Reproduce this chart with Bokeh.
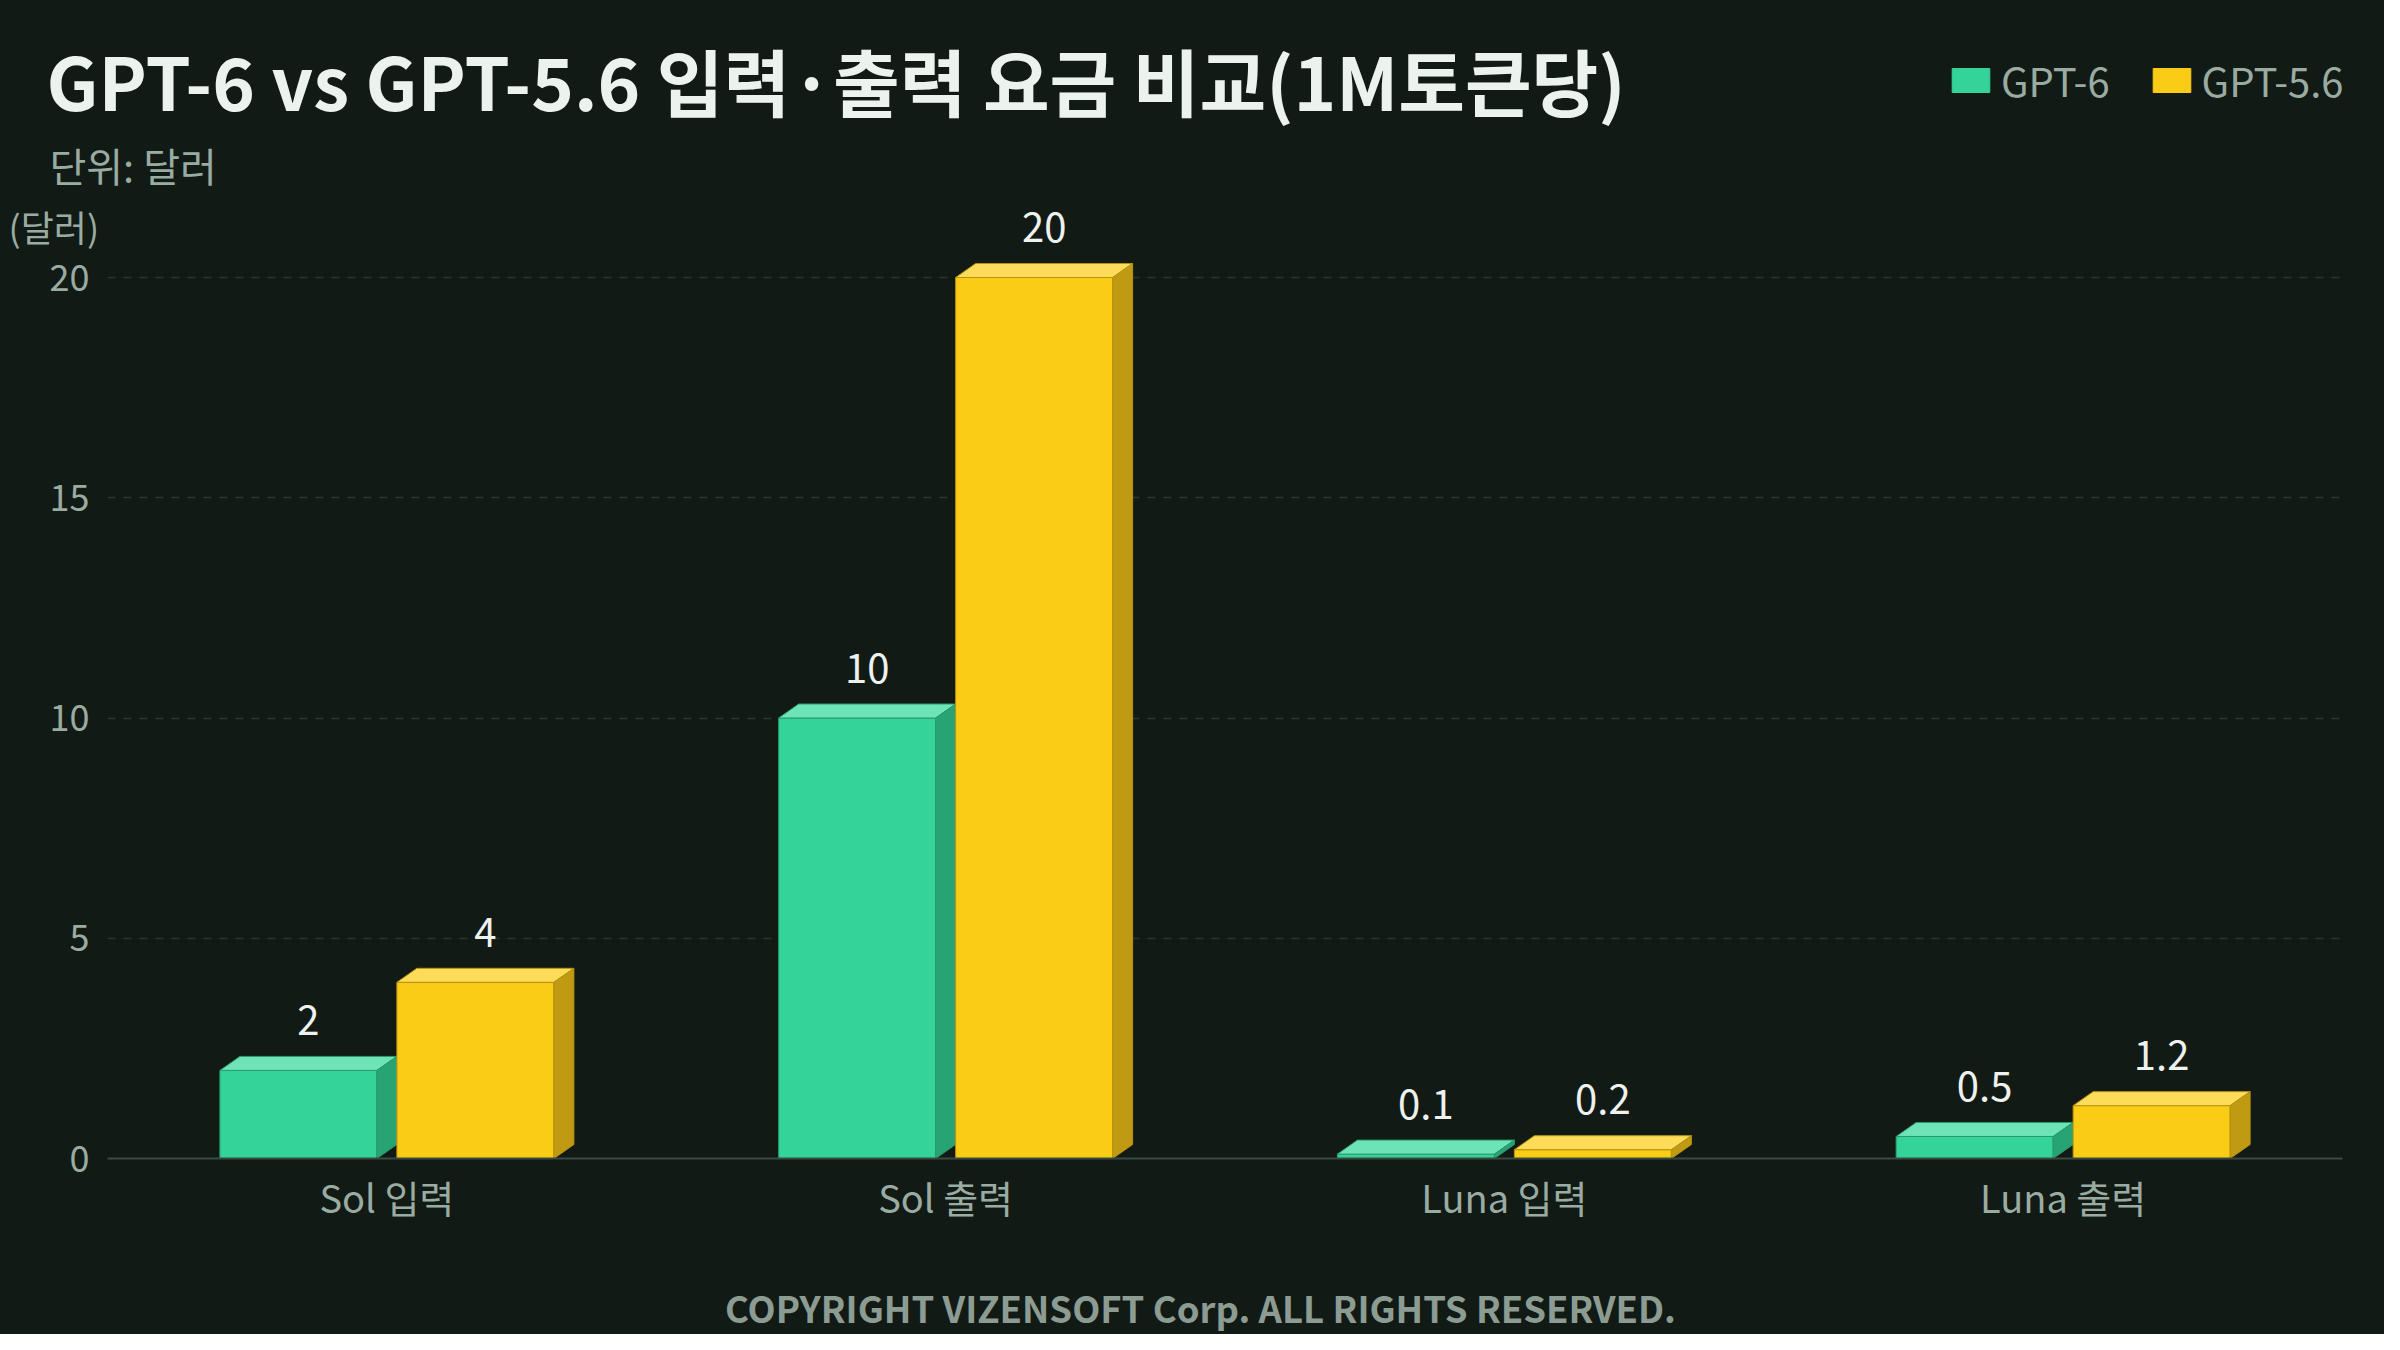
from bokeh.plotting import figure
from bokeh.models import FixedTicker, Label, Legend, LegendItem, Range1d
from bokeh.layouts import column
from bokeh.embed import file_html
from bokeh.resources import INLINE
from bokeh.core.properties import value
from bokeh.core.enums import CoordinateUnits

# ---- data ----
categories = ["Sol 입력", "Sol 출력", "Luna 입력", "Luna 출력"]
series_names = ["GPT-6", "GPT-5.6"]
gpt6 = [2, 10, 0.1, 0.5]
gpt56 = [4, 20, 0.2, 1.2]
y_ticks = [0, 5, 10, 15, 20]

title_text = "GPT-6 vs GPT-5.6 입력·출력 요금 비교(1M토큰당)"
subtitle_text = "단위: 달러"
y_unit_text = "(달러)"
footer_text = "COPYRIGHT VIZENSOFT Corp. ALL RIGHTS RESERVED."

# ---- style ----
FONT = "Noto Sans CJK KR"
BG = "#121a16"
TITLE_C = "#ecf2ee"
GRAY = "#9aaca2"
FOOT_C = "#8c9c92"
VAL_C = "#eef2ee"
GRID_C = "#2c3732"
AXIS_C = "#3a4a41"

face_colors = [
    dict(front="#34d399", top="#6fe3b8", side="#28a474", edge="#2a9a6c"),
    dict(front="#facc15", top="#fddc5a", side="#bf9a12", edge="#b8930f"),
]

W, H = 2384, 1334
HH = 197                      # header height (title, subtitle, legend)
MH = H - HH                   # main figure height
ML, MR, MT = 107, W - 2342, 0
FRAME_BOTTOM = 1158 - HH
MB = MH - FRAME_BOTTOM
FRAME_W = W - ML - MR
FRAME_H = FRAME_BOTTOM - MT
PX_Y = 44.05                  # pixels per dollar
Y_MAX = FRAME_H / PX_Y
PX_X = FRAME_W / len(categories)

BAR_W = 157 / PX_X
DX = 20 / PX_X
DY = 14 / PX_Y
OFFSETS = [-(BAR_W + DX) / 2, (BAR_W + DX) / 2]

UNITS = "canvas" if "canvas" in CoordinateUnits else "screen"

def no_align(fig):
    if "frame_align" in fig.properties():
        fig.frame_align = False

def dark(fig):
    fig.background_fill_color = BG
    fig.border_fill_color = BG
    fig.outline_line_color = BG
    fig.outline_line_width = 3
    fig.styles = {"background-color": BG}

# ---------------- header (title, subtitle, legend) ----------------
hdr = figure(width=W, height=HH, x_range=Range1d(0, W), y_range=Range1d(HH, 0),
             output_backend="svg", toolbar_location=None, title=None,
             x_axis_type=None, y_axis_type=None, min_border=0)
hdr.grid.visible = False
dark(hdr)
no_align(hdr)

hdr.add_layout(Label(x=46, y=79, text=title_text, text_font=FONT, text_font_size="72.5px",
                     text_font_style="bold", text_color=TITLE_C,
                     text_baseline="middle", text_align="left"))
hdr.add_layout(Label(x=49, y=164, text=subtitle_text, text_font=FONT, text_font_size="40px",
                     text_color=GRAY, text_baseline="middle", text_align="left"))

legend_items = []
for name, vals, col in zip(series_names, [gpt6, gpt56], face_colors):
    r = hdr.vbar(x=[i + 0.5 for i in range(len(categories))], top=vals, width=BAR_W,
                 fill_color=col["front"], line_color=col["front"], visible=False)
    legend_items.append(LegendItem(label=name, renderers=[r]))
legend = Legend(items=legend_items, orientation="horizontal", location=(1947, 96 - (205 - HH)),
                background_fill_alpha=0, border_line_alpha=0, padding=0, margin=0,
                spacing=38, label_standoff=7, glyph_width=47, glyph_height=30,
                label_height=27, inactive_fill_alpha=0,
                label_text_font=FONT, label_text_font_size="40px", label_text_color=GRAY,
                label_text_baseline="middle")
hdr.add_layout(legend, "center")

# ---------------- main chart ----------------
p = figure(width=W, height=MH, x_range=Range1d(0, len(categories)), y_range=Range1d(0, Y_MAX),
           output_backend="svg", toolbar_location=None, title=None,
           min_border_left=ML, min_border_right=MR, min_border_top=MT, min_border_bottom=MB)
dark(p)
no_align(p)

p.yaxis.ticker = FixedTicker(ticks=y_ticks)
p.yaxis.axis_line_color = None
p.yaxis.major_tick_line_color = None
p.yaxis.minor_tick_line_color = None
p.yaxis.major_label_text_font = FONT
p.yaxis.major_label_text_font_size = "36px"
p.yaxis.major_label_text_color = GRAY
p.yaxis.major_label_standoff = 12

cat_pos = [i + 0.5 for i in range(len(categories))]
p.xaxis.ticker = FixedTicker(ticks=cat_pos)
p.xaxis.major_label_overrides = {c: n for c, n in zip(cat_pos, categories)}
p.xaxis.axis_line_color = AXIS_C
p.xaxis.axis_line_width = 2
p.xaxis.major_tick_line_color = None
p.xaxis.minor_tick_line_color = None
p.xaxis.major_label_text_font = FONT
p.xaxis.major_label_text_font_size = "38px"
p.xaxis.major_label_text_color = GRAY
p.xaxis.major_label_standoff = 4

p.xgrid.visible = False
p.ygrid.ticker = FixedTicker(ticks=[t for t in y_ticks if t > 0])
p.ygrid.grid_line_color = GRID_C
p.ygrid.grid_line_width = 1.5
p.ygrid.grid_line_dash = "8 8"

for vals, off, col in zip([gpt6, gpt56], OFFSETS, face_colors):
    xc = [c + off for c in cat_pos]
    p.vbar(x=xc, top=vals, bottom=0, width=BAR_W, fill_color=col["front"],
           line_color=col["edge"], line_width=1)
    top_xs = [[x - BAR_W / 2, x - BAR_W / 2 + DX, x + BAR_W / 2 + DX, x + BAR_W / 2] for x in xc]
    top_ys = [[v, v + DY, v + DY, v] for v in vals]
    p.patches(top_xs, top_ys, fill_color=col["top"], line_color=col["edge"], line_width=1)
    side_xs = [[x + BAR_W / 2, x + BAR_W / 2, x + BAR_W / 2 + DX, x + BAR_W / 2 + DX] for x in xc]
    side_ys = [[0, v, v + DY, DY] for v in vals]
    p.patches(side_xs, side_ys, fill_color=col["side"], line_color=col["edge"], line_width=1)
    p.text(x=[x + DX / 2 for x in xc], y=[v + DY for v in vals], text=[f"{v:g}" for v in vals],
           text_align="center", text_baseline="middle", y_offset=-36,
           text_font=value(FONT), text_font_size="40px", text_color=VAL_C)

# texts outside the frame, placed in canvas pixels of the main figure
p.add_layout(Label(x=8, y=227 - HH - 2, x_units=UNITS, y_units=UNITS, text=y_unit_text,
                   text_font=FONT, text_font_size="36px", text_color=GRAY,
                   text_baseline="middle", text_align="left"), "below")
p.add_layout(Label(x=1200, y=1308.5 - HH - 2, x_units=UNITS, y_units=UNITS, text=footer_text,
                   text_font=FONT, text_font_size="36.5px", text_font_style="bold",
                   text_color=FOOT_C, text_baseline="middle", text_align="center"), "below")

layout = column(hdr, p, spacing=0, styles={"background-color": BG})
html = file_html(layout, INLINE)
html = html.replace("<body>", f'<body style="background:{BG};">', 1)
open("out.html", "w").write(html)
